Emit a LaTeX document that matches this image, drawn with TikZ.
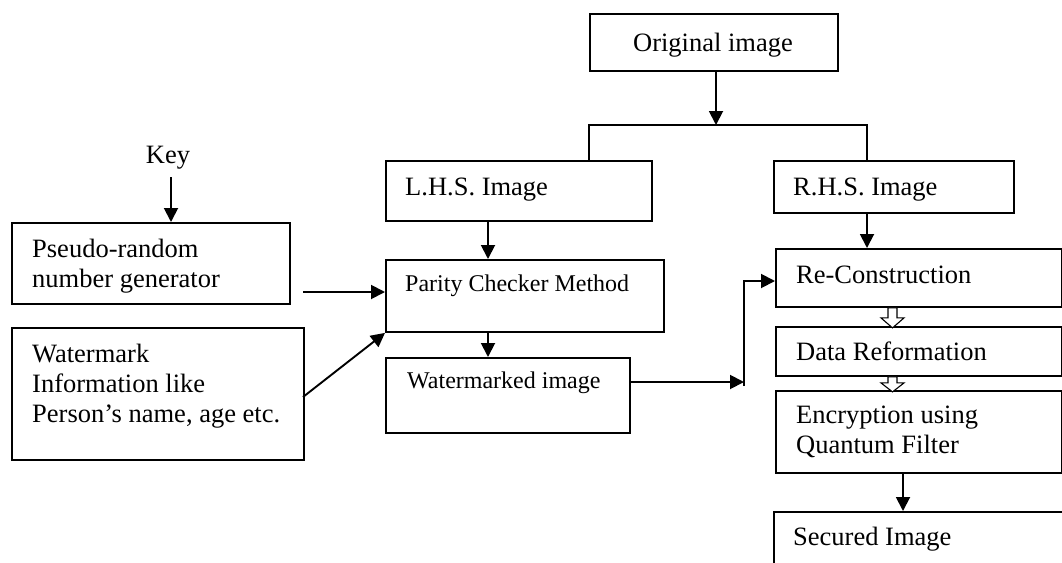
\documentclass[tikz,border=0pt]{standalone}
\usepackage{fontspec}
\setmainfont{Liberation Serif}
\usetikzlibrary{arrows.meta,calc}
\begin{document}
\begin{tikzpicture}[x=1pt,y=-1pt,
  box/.style={draw,line width=1.9pt,inner sep=0pt,anchor=north west},
  lbl/.style={inner sep=0pt,anchor=base west,font=\fontsize{26.5}{30}\selectfont},
  sml/.style={inner sep=0pt,anchor=base west,font=\fontsize{24}{28}\selectfont},
  flow/.style={line width=1.9pt,-{Triangle[length=14pt,width=14pt]}},
  link/.style={line width=1.9pt},
  hollow/.style={draw,line width=1.1pt,fill=white}]
\useasboundingbox (0,0) rectangle (1062,562);
\clip (0,0) rectangle (1062,562);

% ---- boxes ----
\node[box,minimum width=248pt,minimum height=57pt] (orig)    at (589,13)  {};
\node[box,minimum width=266pt,minimum height=60pt] (lhs)     at (385,160) {};
\node[box,minimum width=240pt,minimum height=52pt] (rhs)     at (773,160) {};
\node[box,minimum width=278pt,minimum height=81pt] (pseudo)  at (11,222)  {};
\node[box,minimum width=292pt,minimum height=132pt] (wminfo) at (11,327)  {};
\node[box,minimum width=278pt,minimum height=72pt] (parity)  at (385,259) {};
\node[box,minimum width=244pt,minimum height=75pt] (wmimg)   at (385,357) {};
\node[box,minimum width=286pt,minimum height=58pt] (recon)   at (775,248) {};
\node[box,minimum width=286pt,minimum height=49pt] (reform)  at (775,326) {};
\node[box,minimum width=286pt,minimum height=82pt] (encr)    at (775,390) {};
\node[box,minimum width=300pt,minimum height=100pt] (secured) at (773,511) {};

% ---- texts ----
\node[lbl,anchor=base] (torig) at (713,51) {Original image};
\node[lbl,anchor=base] (key) at (168,163) {Key};
\node[lbl] (tlhs) at (405,195) {L.H.S. Image};
\node[lbl] (trhs) at (793,195) {R.H.S. Image};
\node[lbl] (tps1) at (32,257) {Pseudo-random};
\node[lbl] (tps2) at (32,287) {number generator};
\node[lbl] (twm1) at (32,362) {Watermark};
\node[lbl] (twm2) at (32,392) {Information like};
\node[lbl] (twm3) at (32,422) {Person’s name, age etc.};
\node[sml] (tpar) at (405,291) {Parity Checker Method};
\node[sml] (twmi) at (407,388) {Watermarked image};
\node[lbl] (trec) at (796,283) {Re-Construction};
\node[lbl] (tref) at (796,360) {Data Reformation};
\node[lbl] (ten1) at (796,423) {Encryption using};
\node[lbl] (ten2) at (796,453) {Quantum Filter};
\node[lbl] (tsec) at (793,545) {Secured Image};

% ---- connector points ----
\coordinate (split) at (716,125);
\coordinate (bl) at (589,125);
\coordinate (br) at (867,125);
\coordinate (k1) at (171,177);
\coordinate (c1) at (488,0);
\coordinate (p1) at (303,292);
\coordinate (w1) at (303,397);
\coordinate (j0) at (744,386);
\coordinate (j1) at (744,382);
\coordinate (j2) at (744,281);
\coordinate (h1) at (892.5,0);
\coordinate (e1) at (903,0);

% ---- connectors ----
\draw[flow] (orig.south -| split) -- (split);
\draw[link] (lhs.north -| bl) -- (bl) -- (br) -- (rhs.north -| br);
\draw[flow] (k1) -- (k1 |- pseudo.north);
\draw[flow] (lhs.south -| c1) -- (parity.north -| c1);
\draw[flow] (parity.south -| c1) -- (wmimg.north -| c1);
\draw[flow] (p1) -- (p1 -| parity.west);
\draw[flow] (w1) -- (parity.south west);
\draw[flow] (wmimg.east |- j1) -- (j1);
\draw[flow] (j0) -- (j2) -- (j2 -| recon.west);
\draw[flow] (rhs.south -| br) -- (recon.north -| br);
\draw[flow] (encr.south -| e1) -- (secured.north -| e1);

% hollow block arrows between the stacked steps
\draw[hollow] ($(recon.south -| h1)+(-4.5,0)$) -- ++(0,10) -- ++(-7,0)
  -- ++(11.5,10) -- ++(11.5,-10) -- ++(-7,0) -- ++(0,-10) -- cycle;
\draw[hollow] ($(reform.south -| h1)+(-4.5,0)$) -- ++(0,6) -- ++(-7,0)
  -- ++(11.5,9) -- ++(11.5,-9) -- ++(-7,0) -- ++(0,-6) -- cycle;
\end{tikzpicture}
\end{document}
